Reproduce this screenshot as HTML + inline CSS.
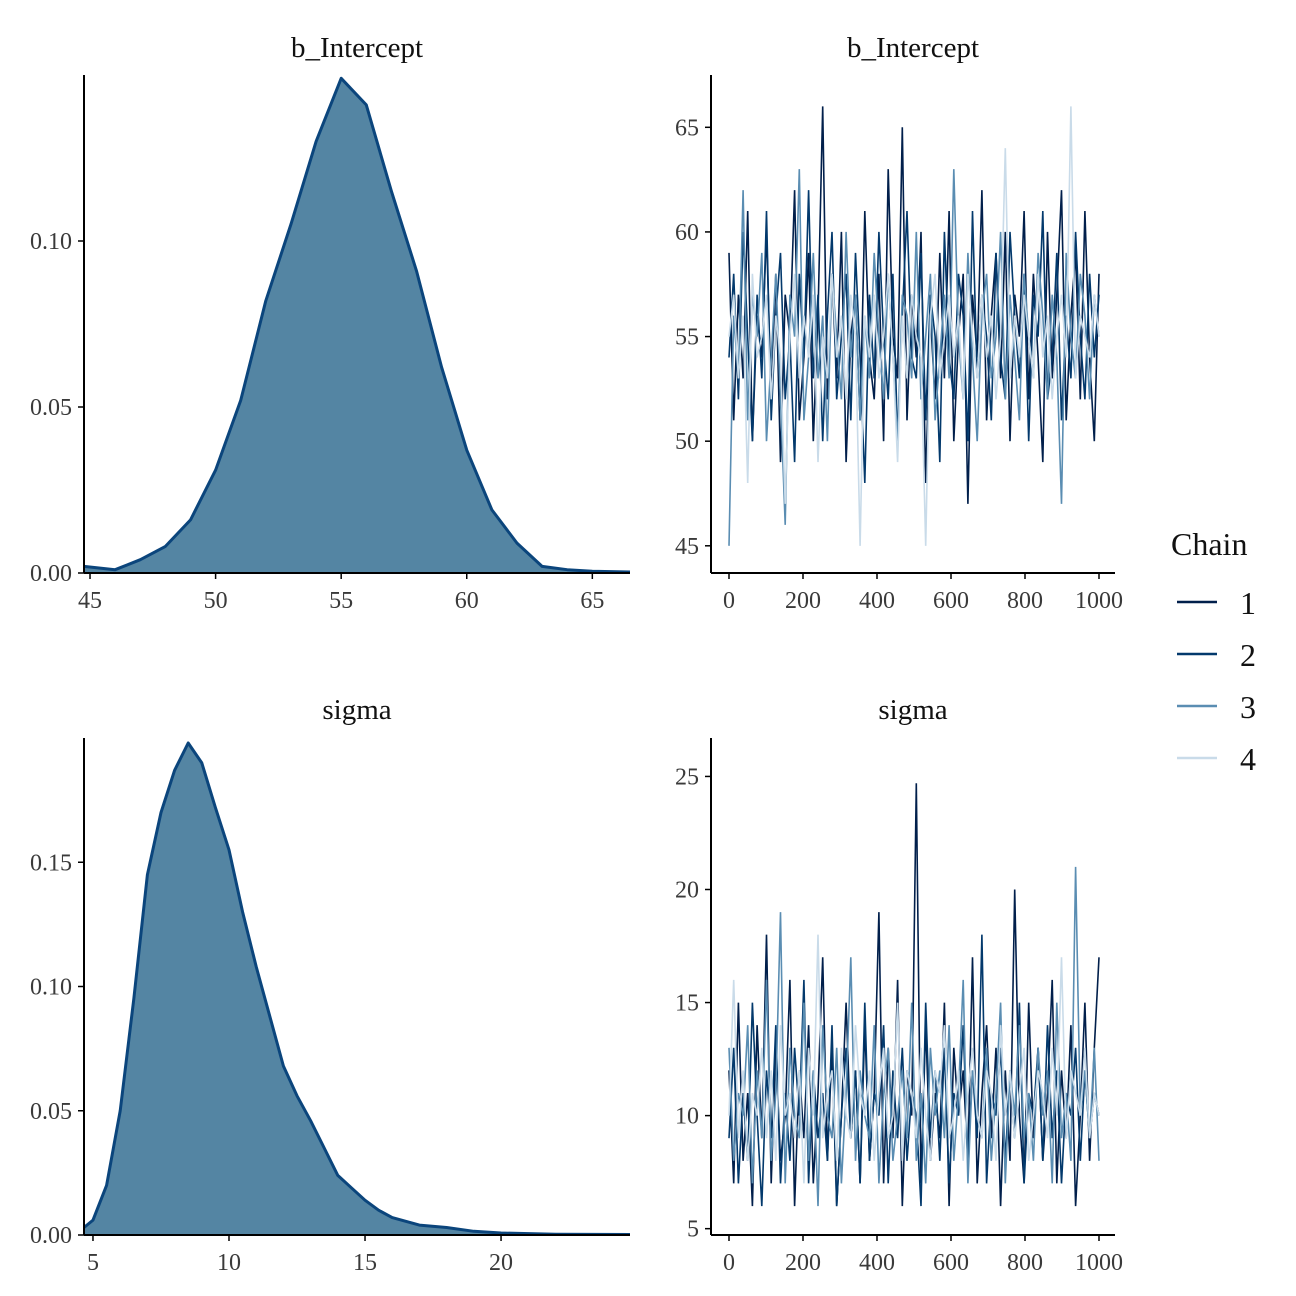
<!DOCTYPE html>
<html><head><meta charset="utf-8"><style>
html,body{margin:0;padding:0;background:#fff;}
svg{display:block;font-family:"Liberation Serif",serif;}
</style></head><body>
<svg id="chart" width="1296" height="1296" viewBox="0 0 1296 1296" xmlns="http://www.w3.org/2000/svg">
<rect width="1296" height="1296" fill="#fff"/>
<g id="root"></g>
</svg>
<script>
// ---- data ----
const densIntX = [44.76,46,47,48,49,50,51,52,53,54,55,56,57,58,59,60,61,62,63,64,65,66.5];
const densIntY = [0.002,0.001,0.004,0.008,0.016,0.031,0.052,0.082,0.105,0.13,0.149,0.141,0.115,0.091,0.062,0.037,0.019,0.009,0.002,0.001,0.0005,0.0003];
const densSigX = [4.67,5,5.5,6,6.5,7,7.5,8,8.5,9,9.5,10,10.5,11,11.5,12,12.5,13,13.5,14,14.5,15,15.5,16,17,18,19,20,22,24.74];
const densSigY = [0.003,0.006,0.02,0.05,0.095,0.145,0.17,0.187,0.198,0.19,0.172,0.155,0.13,0.108,0.088,0.068,0.056,0.046,0.035,0.024,0.019,0.014,0.01,0.007,0.004,0.003,0.0015,0.0008,0.0003,0.0002];
const intTicksX = [45,50,55,60,65];
const intTicksY = [0,0.05,0.10];
const sigTicksX = [5,10,15,20];
const sigTicksY = [0,0.05,0.10,0.15];
const iterTicks = [0,200,400,600,800,1000];
const traceIntTicks = [45,50,55,60,65];
const traceSigTicks = [5,10,15,20,25];
const chainLabels = ["1","2","3","4"];
const traceInt1 = [59,51,57,53,61,50,56,54,60,52,58,49,57,55,62,51,54,59,50,56,66,52,58,53,60,49,55,57,51,61,54,52,58,50,63,55,53,65,51,57,54,60,48,56,52,59,53,61,50,55,58,47,57,54,62,51,56,59,53,60,50,57,55,61,52,58,54,49,60,53,57,62,51,56,59,52,61,54,50,58];
const traceInt2 = [54,58,52,60,55,50,57,53,61,51,56,59,52,55,49,58,54,62,53,57,50,56,60,52,55,58,51,59,54,48,57,53,60,55,52,58,50,56,61,54,53,59,51,57,55,49,60,54,52,58,56,50,61,53,57,55,51,59,54,52,60,56,53,58,50,57,55,61,52,54,59,51,56,53,60,55,52,58,54,57];
const traceInt3 = [45,56,53,62,51,57,55,59,50,54,58,52,46,57,55,63,51,54,59,53,56,50,58,55,52,60,54,57,51,56,53,59,55,52,58,54,50,57,56,53,60,52,55,58,51,54,57,53,63,55,52,59,54,50,56,58,53,55,60,52,57,54,51,58,55,53,59,56,52,57,54,47,59,55,53,58,56,52,57,55];
const traceInt4 = [55,57,53,56,48,58,54,55,57,52,56,54,47,55,58,53,56,54,57,49,55,53,58,54,56,52,57,55,45,56,54,57,53,55,58,54,49,56,53,57,55,54,45,56,58,53,55,57,54,56,52,58,55,53,57,54,56,52,55,64,53,56,54,57,55,53,58,54,56,52,55,57,54,66,53,56,55,54,57,55];
const traceSig1 = [12,7,15,8,11,6,14,9,18,7,13,8,10,16,6,12,9,14,7,11,17,8,13,6,10,15,9,12,7,14,8,11,19,7,13,9,16,6,12,10,24.7,7,14,8,11,9,15,6,13,10,12,8,17,7,11,14,9,13,6,12,8,20,10,7,15,9,13,8,11,16,7,12,9,14,6,10,15,8,13,17];
const traceSig2 = [9,13,7,11,8,15,10,6,12,9,14,7,11,8,13,10,16,7,12,9,11,8,14,6,10,13,9,12,7,15,8,11,10,14,7,12,9,13,8,11,10,6,15,9,12,8,13,7,11,10,14,8,12,9,18,7,11,10,13,8,12,9,15,7,11,10,13,8,14,9,12,7,11,10,13,8,12,9,11,10];
const traceSig3 = [13,8,11,10,14,7,12,9,16,8,11,19,7,13,10,9,15,8,12,6,14,10,9,13,7,11,17,8,12,10,9,14,7,11,13,8,10,12,9,15,8,11,7,13,10,12,9,14,8,11,16,7,12,10,9,13,8,11,15,7,12,10,14,9,11,8,13,10,12,7,15,9,11,8,21,10,12,9,13,8];
const traceSig4 = [10,16,9,12,8,11,10,13,9,12,8,14,10,11,9,12,7,13,10,18,9,11,12,8,13,10,9,14,11,10,12,8,11,13,9,10,15,8,12,11,9,13,10,8,12,11,14,9,10,12,8,11,13,10,9,12,11,8,14,10,12,9,11,13,8,10,12,11,9,13,10,17,9,12,11,10,13,9,11,10];
const chainColors = ["#011f4b","#03396c","#5a8db2","#c9dbe9"];

const NS = "http://www.w3.org/2000/svg";
const root = document.getElementById("root");
function mk(tag, attrs, parent){const e=document.createElementNS(NS,tag);for(const k in attrs)e.setAttribute(k,attrs[k]);(parent||root).appendChild(e);return e;}
function lin(d0,d1,r0,r1){return v=>r0+(v-d0)/(d1-d0)*(r1-r0);}

function axes(g,x0,x1,y0,y1,sx,sy,xt,yt,fmtX,fmtY){
  const ax=mk("line",{x1:x0,y1:y1,x2:x1,y2:y1,stroke:"#000","stroke-width":2},g);
  
  
  const ay=mk("line",{x1:x0,y1:y0,x2:x0,y2:y1,stroke:"#000","stroke-width":2},g);
  
  
  xt.forEach(v=>{const x=sx(v);
    mk("line",{x1:x,y1:y1,x2:x,y2:y1+6,stroke:"#000","stroke-width":1.5},g);
    const t=mk("text",{x:x,y:y1+35,"text-anchor":"middle","font-size":24,fill:"#3a3a3a"},g);t.textContent=fmtX(v);
    
    });
  yt.forEach(v=>{const y=sy(v);
    mk("line",{x1:x0-6,y1:y,x2:x0,y2:y,stroke:"#000","stroke-width":1.5},g);
    const t=mk("text",{x:x0-12,y:y+8,"text-anchor":"end","font-size":24,fill:"#3a3a3a"},g);t.textContent=fmtY(v);
    
    });
}
function title(txt,x,y,name){const t=mk("text",{x:x,y:y,"text-anchor":"middle","font-size":29,fill:"#111"});t.textContent=txt;
  
  }

function density(xs,ys,x0,x1,y0,y1,dx0,dx1,dymax,xt,yt,name){
  const g=mk("g",{});
  
  
  const sx=lin(dx0,dx1,x0,x1), sy=lin(0,dymax,y1,y0);
  let d="M"+sx(xs[0])+","+sy(0);
  xs.forEach((v,i)=>{d+=" L"+sx(v).toFixed(1)+","+sy(ys[i]).toFixed(1);});
  d+=" L"+sx(xs[xs.length-1])+","+sy(0)+"Z";
  const a=mk("path",{d:d,fill:"#5485a3",stroke:"none"},g);
  
  
  let l="";xs.forEach((v,i)=>{l+=(i?" L":"M")+sx(v).toFixed(1)+","+sy(ys[i]).toFixed(1);});
  const p=mk("path",{d:l,fill:"none",stroke:"#0b457c","stroke-width":3,"stroke-linejoin":"round"},g);
  
  
  axes(g,x0,x1,y0,y1,sx,sy,xt,yt,v=>String(v),v=>v.toFixed(2));
}

function trace(chains,x0,x1,y0,y1,ymin,ymax,yt,name){
  const g=mk("g",{});
  
  
  const sx=lin(0,1000,729,1099), sy=lin(ymin,ymax,y1,y0);
  chains.forEach((c,ci)=>{
    let d="";c.forEach((v,i)=>{d+=(i?" L":"M")+sx(i*1000/(c.length-1)).toFixed(1)+","+sy(v).toFixed(1);});
    const p=mk("path",{d:d,fill:"none",stroke:chainColors[ci],"stroke-width":1.6},g);
    
    
  });
  axes(g,x0,x1,y0,y1,sx,sy,iterTicks,yt,v=>String(v),v=>String(v));
}

title("b_Intercept",357,57,"title-density-intercept");
title("b_Intercept",913,57,"title-trace-intercept");
title("sigma",357,719,"title-density-sigma");
title("sigma",913,719,"title-trace-sigma");

density(densIntX,densIntY,84,630,75,573,44.76,66.5,0.15,intTicksX,intTicksY,"density-intercept");
density(densSigX,densSigY,84,630,738,1235,4.67,24.74,0.2,sigTicksX,sigTicksY,"density-sigma");
trace([traceInt1,traceInt2,traceInt3,traceInt4],711,1115,75,573,43.7,67.5,traceIntTicks,"trace-intercept");
trace([traceSig1,traceSig2,traceSig3,traceSig4],711,1115,738,1235,4.72,26.7,traceSigTicks,"trace-sigma");

// legend
const lg=mk("g",{});


const lt=mk("text",{x:1171,y:555,"font-size":32,fill:"#111"},lg);lt.textContent="Chain";


chainLabels.forEach((c,i)=>{const y=602+i*52;
  const e=mk("g",{},lg);
  
  
  mk("line",{x1:1177,y1:y,x2:1217,y2:y,stroke:chainColors[i],"stroke-width":2.5},e);
  const t=mk("text",{x:1240,y:y+12,"font-size":32,fill:"#111"},e);t.textContent=c;});
</script>
</body></html>
